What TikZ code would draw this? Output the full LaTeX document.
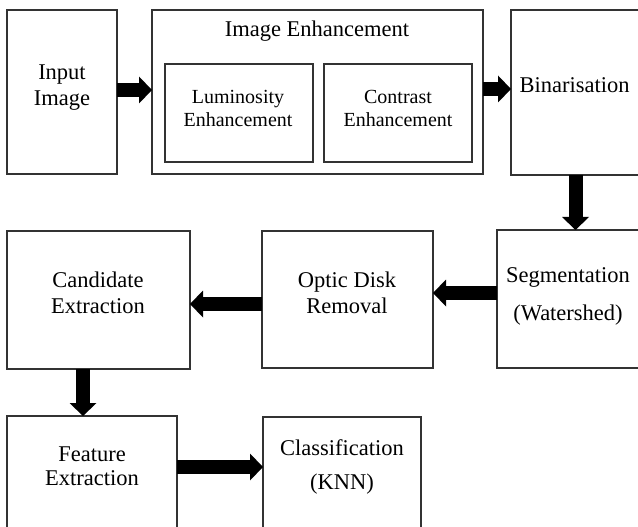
\documentclass[tikz,border=0pt]{standalone}
\usepackage{fontspec}
\setmainfont{Liberation Serif}
\usetikzlibrary{arrows.meta,calc}

\begin{document}
\begin{tikzpicture}[x=1bp, y=-1bp,
  stage/.style={draw=black!80, line width=1.2bp, inner sep=0pt, outer sep=0pt},
  lbl/.style={font=\fontsize{22.5bp}{26bp}\selectfont, align=center, anchor=base, inner sep=0pt},
  sublbl/.style={lbl, font=\fontsize{20bp}{23bp}\selectfont},
  flow/.style={line width=14bp, -{Triangle[length=13bp,width=27bp,line width=0pt]}}]
  \path[use as bounding box, fill=white] (0,0) rectangle (638,527);
  % boxes: name/x/y/width/height
  \foreach \n/\x/\y/\w/\h in {inp/62/92/110/164, enh/317.5/92/331/164, lum/239/113/148/98,
      con/398/113/148/98, bin/575.5/92.5/129/165, seg/568.5/299/143/138, opt/347.5/299.5/171/137,
      cand/98.5/300/183/138, feat/92/475.5/170/119, cls/342/476/158/118}{
    \node[stage, minimum width=\w bp, minimum height=\h bp] (\n) at (\x,\y) {};
  }
  % texts (base = baseline of the last line)
  \node[lbl] (inptxt) at (62,106) {Input\\Image};
  \node[lbl] (enhtxt) at (317,37) {Image Enhancement};
  \node[sublbl] (lumtxt) at (238,127) {Luminosity\\Enhancement};
  \node[sublbl] (contxt) at (398,127) {Contrast\\Enhancement};
  \node[lbl] (bintxt) at (574.5,93) {Binarisation};
  \node[lbl] (candtxt) at (98,313) {Candidate\\Extraction};
  \node[lbl] (opttxt) at (347,313) {Optic Disk\\Removal};
  \node[lbl] (segtxt) at (568,320) {Segmentation\\[12bp](Watershed)};
  \node[lbl] (feattxt) at (92,485) {Feature\\[-2bp]Extraction};
  \node[lbl] (clstxt) at (342,489) {Classification\\[8bp](KNN)};
  % flow between stages
  \draw[flow] ([yshift=2bp]inp.east) -- ([yshift=2bp]inp.east -| enh.west);
  \draw[flow] ([yshift=3bp]enh.east) -- ([yshift=3bp]enh.east -| bin.west);
  \draw[flow] (bin.south) -- (bin.south |- seg.north);
  \draw[flow] ([yshift=6bp]seg.west) -- ([yshift=6bp]seg.west -| opt.east);
  \draw[flow] ([yshift=-4.5bp]opt.west) -- ([yshift=-4.5bp]opt.west -| cand.east);
  \draw[flow] ([xshift=-15.5bp]cand.south) -- ([xshift=-15.5bp]cand.south |- feat.north);
  \draw[flow] ([yshift=8.5bp]feat.east) -- ([yshift=8.5bp]feat.east -| cls.west);
\end{tikzpicture}
\end{document}
